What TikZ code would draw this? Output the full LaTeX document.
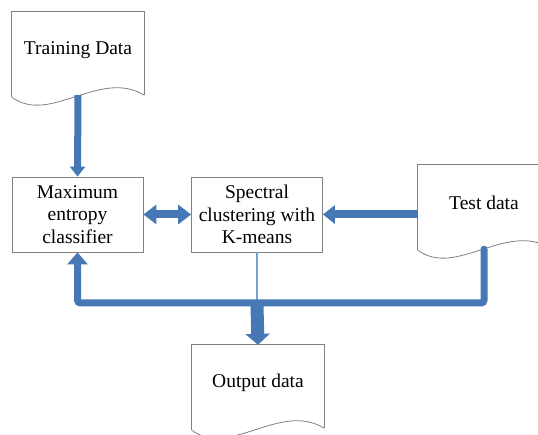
\documentclass[tikz,border=0pt]{standalone}
\usepackage{fontspec}
\newfontfamily\diagfont{Liberation Serif}
\usetikzlibrary{arrows.meta}
\definecolor{flowblue}{RGB}{70,120,182}
\definecolor{thinblue}{RGB}{120,160,205}
\tikzset{
  box/.style={draw=gray, line width=0.8pt, minimum width=131pt, minimum height=75pt, align=center, inner sep=0pt},
  doc/.style={minimum width=132pt, minimum height=76pt, align=center, inner sep=0pt},
  docline/.style={draw=gray, line width=0.8pt},
  flow/.style={draw=flowblue, line width=#1},
}
% outline of a document shape round a doc node
\newcommand{\docoutline}[1]{%
  \draw[docline] ([yshift=-9pt]#1.south west) -- (#1.north west) -- (#1.north east) -- ([yshift=-7pt]#1.south east);
  \draw[docline] ([yshift=-9pt]#1.south west) .. controls ([xshift=38pt,yshift=-37pt]#1.south west) and ([xshift=-44pt,yshift=20pt]#1.south east) .. ([yshift=-7pt]#1.south east);
}

\begin{document}
\begin{tikzpicture}[x=1pt, y=-1pt, font=\diagfont\fontsize{19.5}{22.5}\selectfont]
  \useasboundingbox (0,0) rectangle (538,435);
  \clip (0,0) rectangle (538,435);

  \node[doc] (train) at (78,50) {Training Data};
  \node[doc] (test) at (484,203) {Test data};
  \node[doc] (output) at (258,383) {Output data};
  \docoutline{train}
  \docoutline{test}
  \docoutline{output}

  \node[box] (maxent) at (77.5,214.5) {Maximum\\entropy\\classifier};
  \node[box] (spectral) at (257,214.5) {Spectral\\clustering with\\K-means};

  \coordinate (testout) at ([yshift=-8pt]test.south);
  \coordinate (bus) at (spectral.south |- 0,303);

  \draw[flow=7pt, -{Triangle[width=15pt,length=10pt]}] ([yshift=-7pt]train.south) -- (maxent.north);
  \draw[flow=8pt, {Triangle[width=19pt,length=13pt]}-{Triangle[width=19pt,length=13pt]}] (maxent.east) -- (spectral.west);
  \draw[flow=8pt, -{Triangle[width=18pt,length=12pt]}] (spectral.east -| test.west) -- (spectral.east);
  \draw[thinblue, line width=1.2pt] (spectral.south) -- (bus);
  \draw[flow=7pt, rounded corners=3pt, line cap=round, -{Triangle[width=20pt,length=12pt]}] (testout) |- (bus) -| (maxent.south);
  \draw[flow=13pt, -{Triangle[width=24pt,length=11pt]}] ([yshift=-3pt]bus) -- (output.north);
\end{tikzpicture}
\end{document}
